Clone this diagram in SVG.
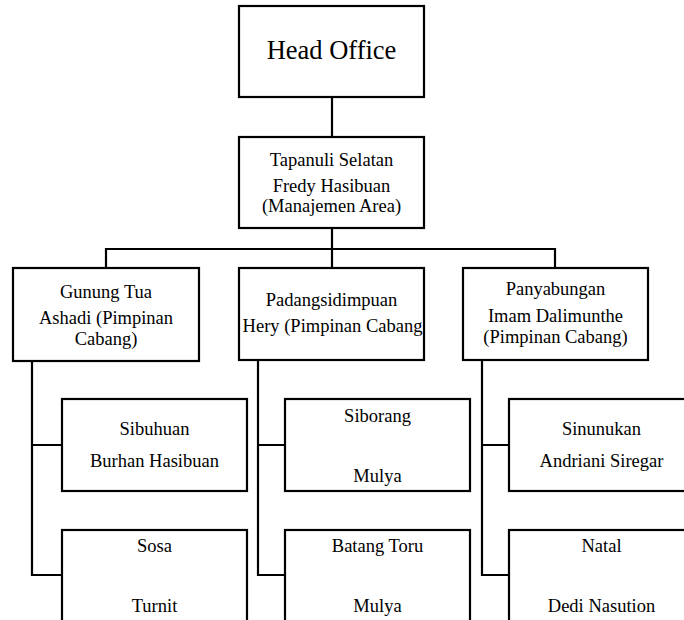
<svg xmlns="http://www.w3.org/2000/svg" width="684" height="620" viewBox="0 0 684 620">
<style>
.box{fill:#fff;stroke:#000;stroke-width:2.2}
.ln{fill:none;stroke:#000;stroke-width:2.2}
text{font-family:"Liberation Serif","Times New Roman",serif;fill:#000;text-anchor:middle;font-size:18.5px}
.big{font-size:26.5px}
</style>
<rect width="684" height="620" fill="#fff"/>
<g id="connectors">
<path class="ln" d="M332 97V137"/>
<path class="ln" d="M332 228V249"/>
<path class="ln" d="M106 268V249H555V268"/>
<path class="ln" d="M332 249V268"/>
<path class="ln" d="M32 361V575H62M32 445H62"/>
<path class="ln" d="M258 360V575H285M258 445H285"/>
<path class="ln" d="M482 360V575H509M482 445H509"/>
</g>
<g id="head-office">
<rect class="box" x="239" y="6" width="185" height="91"/>
<text class="big" x="331.5" y="59">Head Office</text>
</g>
<g id="tapanuli-selatan">
<rect class="box" x="239" y="137" width="185" height="91"/>
<text x="331.5" y="165.5">Tapanuli Selatan</text>
<text x="331.5" y="191.5">Fredy Hasibuan</text>
<text x="331.5" y="212">(Manajemen Area)</text>
</g>
<g id="gunung-tua">
<rect class="box" x="13" y="268" width="186" height="93"/>
<text x="106" y="298">Gunung Tua</text>
<text x="106" y="324">Ashadi (Pimpinan</text>
<text x="106" y="345">Cabang)</text>
</g>
<g id="padangsidimpuan">
<rect class="box" x="239" y="268" width="185" height="92"/>
<text x="331.5" y="306">Padangsidimpuan</text>
<text x="332.5" y="332">Hery (Pimpinan Cabang</text>
</g>
<g id="panyabungan">
<rect class="box" x="463" y="268" width="185" height="92"/>
<text x="555.5" y="295">Panyabungan</text>
<text x="555.5" y="322">Imam Dalimunthe</text>
<text x="555.5" y="342.5">(Pimpinan Cabang)</text>
</g>
<g id="sibuhuan">
<rect class="box" x="62" y="399" width="185" height="92"/>
<text x="154.5" y="435">Sibuhuan</text>
<text x="154.5" y="467">Burhan Hasibuan</text>
</g>
<g id="sosa">
<rect class="box" x="62" y="530" width="185" height="100"/>
<text x="154.5" y="552">Sosa</text>
<text x="154.5" y="612">Turnit</text>
</g>
<g id="siborang">
<rect class="box" x="285" y="399" width="185" height="92"/>
<text x="377.5" y="422">Siborang</text>
<text x="377.5" y="482">Mulya</text>
</g>
<g id="batang-toru">
<rect class="box" x="285" y="530" width="185" height="100"/>
<text x="377.5" y="552">Batang Toru</text>
<text x="377.5" y="612">Mulya</text>
</g>
<g id="sinunukan">
<rect class="box" x="509" y="399" width="185" height="92"/>
<text x="601.5" y="435">Sinunukan</text>
<text x="601.5" y="467">Andriani Siregar</text>
</g>
<g id="natal">
<rect class="box" x="509" y="530" width="185" height="100"/>
<text x="601.5" y="552">Natal</text>
<text x="601.5" y="612">Dedi Nasution</text>
</g>
</svg>
